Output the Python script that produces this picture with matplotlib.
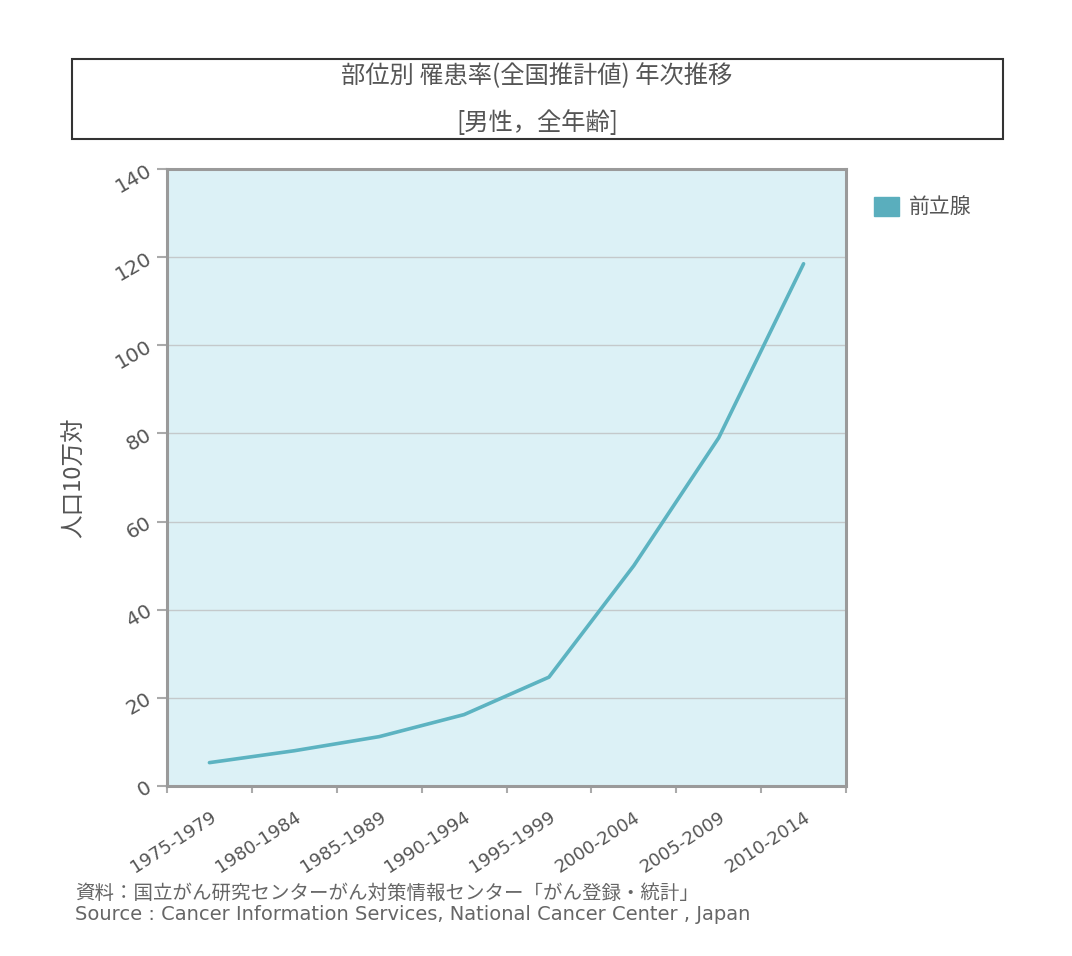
#! /usr/bin/env python
## Prostate cancer incidence trend (Japan, male, all ages)

import numpy as np
import matplotlib
matplotlib.use('Agg')
import matplotlib.pyplot as plt
from matplotlib.patches import Rectangle, Patch

plt.rcParams['font.family'] = ['Noto Sans CJK JP', 'DejaVu Sans']

# Data
periods = ['1975-1979', '1980-1984', '1985-1989', '1990-1994',
           '1995-1999', '2000-2004', '2005-2009', '2010-2014']
rate = [5.3, 8.0, 11.2, 16.2, 24.7, 50.0, 79.0, 118.5]   # per 100,000
series_name = '前立腺'
title1 = '部位別 罹患率(全国推計値) 年次推移'
title2 = '[男性，全年齢]'
ylabel = '人口10万対'
src1 = '資料：国立がん研究センターがん対策情報センター「がん登録・統計」'
src2 = 'Source : Cancer Information Services, National Cancer Center , Japan'

W, H = 1072, 956
line_col = '#5cb3c1'
txt_col = '#555555'

fig = plt.figure(figsize=(W/100, H/100), dpi=100)
ax = fig.add_axes([167/W, 1-786/H, (846-167)/W, (786-169)/H])
ax.set_facecolor('#dcf1f6')

x = np.arange(len(periods))
ax.plot(x, rate, color=line_col, lw=2.6, solid_capstyle='round', zorder=3)

ax.set_xlim(-0.5, len(periods)-0.5)
ax.set_ylim(0, 140)
ax.set_yticks(np.arange(0, 141, 20))
ax.grid(axis='y', color='#c4c9cb', lw=1)
ax.set_axisbelow(True)

# boundaries get tick marks, centers get the labels
ax.set_xticks(np.arange(-0.5, len(periods), 1.0))
ax.set_xticklabels([])
ax.set_xticks(x, minor=True)
ax.set_xticklabels(periods, minor=True, rotation=33, ha='right',
                   rotation_mode='anchor', color=txt_col, fontsize=13,
                   family='DejaVu Sans')
ax.tick_params(axis='x', which='minor', length=0, pad=16)
ax.tick_params(axis='x', which='major', length=5, color='#aaaaaa', width=1.5)
ax.tick_params(axis='y', length=7, color='#aaaaaa', width=1.5, pad=5)
for lb in ax.get_yticklabels():
    lb.set_rotation(30)
    lb.set_rotation_mode('anchor')
    lb.set_ha('right')
    lb.set_va('center')
    lb.set_color(txt_col)
    lb.set_fontsize(14.5)
    lb.set_family('DejaVu Sans')

for s in ax.spines.values():
    s.set_color('#9a9a9a')
    s.set_linewidth(2.2)

ax.set_ylabel(ylabel, color=txt_col, fontsize=17, labelpad=19)

# title box
fig.patches.append(Rectangle((72/W, 1-139/H), (1003-72)/W, (139-59)/H,
                             transform=fig.transFigure, fill=False,
                             ec='#333333', lw=1.5))
fig.text(537/W, 1-76/H, title1, ha='center', va='center', fontsize=17.5, color=txt_col)
fig.text(537/W, 1-123/H, title2, ha='center', va='center', fontsize=17.5, color=txt_col)

# legend
fig.legend(handles=[Patch(color='#5aaebd', label=series_name)],
           loc='upper left', bbox_to_anchor=(864/W, 1-186/H), frameon=False,
           fontsize=15, handlelength=1.2, handleheight=1.0,
           labelcolor=txt_col, borderpad=0, handletextpad=0.45)

# source notes
fig.text(75/W, 1-893/H, src1, ha='left', va='center', fontsize=14, color='#666666')
fig.text(75/W, 1-915/H, src2, ha='left', va='center', fontsize=14, color='#666666',
         family='DejaVu Sans')

fig.savefig('out.png', dpi=100)
